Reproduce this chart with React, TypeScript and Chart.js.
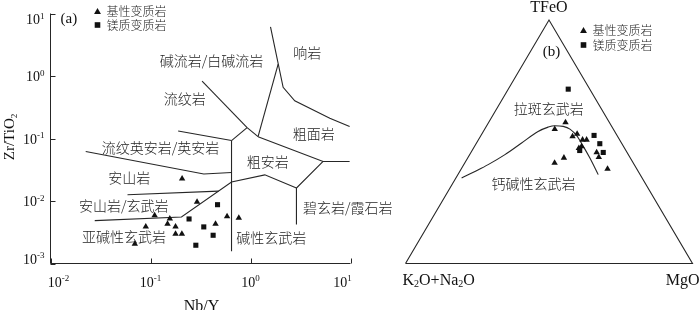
import React, { useEffect, useRef } from "react";
import { Chart, registerables } from "chart.js";

Chart.register(...registerables);

const SERIF = '"Liberation Serif", "Times New Roman", serif';
const CJK = '"Noto Sans CJK SC", "Noto Sans CJK JP", sans-serif';
const INK = "#111";
const CJK_INK = "#1e1e1e";
const LINE = "#262626";

// ---------------- Panel (a): Nb/Y vs Zr/TiO2 ----------------
const basicNbY = [0.207, 0.292, 0.11, 0.156, 0.148, 0.0897, 0.178, 0.178, 0.206, 0.583, 0.447, 0.764, 0.0697];
const basicZrTi = [0.0227, 0.00964, 0.00589, 0.00522, 0.0043, 0.00389, 0.00389, 0.00298, 0.00298, 0.00567, 0.0043, 0.00536, 0.00206];
const maficNbY = [0.468, 0.243, 0.341, 0.423, 0.284];
const maficZrTi = [0.00873, 0.00516, 0.00385, 0.00283, 0.00196];

// field boundaries [Nb/Y, Zr/TiO2]
const bComenditeRhyolite = [[0.328, 0.83], [0.925, 0.149]];
const bRhyoliteDacite = [[0.925, 0.149], [0.646, 0.0927]];
const bRhyoliteTrachyte = [[0.925, 0.149], [1.19, 0.107]];
const bComenditeTrachyte = [[1.19, 0.107], [1.89, 1.55]];
const bPhonolite = [[1.585, 6.09], [2.12, 0.658], [2.77, 0.402], [6.21, 0.211], [9.8, 0.155]];
const bTrachyteTrachyandesite = [[1.19, 0.107], [5.32, 0.0429], [9.8, 0.0429]];
const bBasanite = [[5.32, 0.0429], [2.88, 0.0161], [2.88, 0.00419]];
const bAlkBasalt = [[2.88, 0.0161], [1.39, 0.0262], [0.646, 0.0201], [0.204, 0.00556], [0.0277, 0.00485]];
const bAndesiteBasalt = [[0.0589, 0.0126], [0.48, 0.0144]];
const bAndesite = [[0.0225, 0.0618], [0.341, 0.027], [0.646, 0.0286]];
const bDacite = [[0.189, 0.132], [0.646, 0.0927]];
const bVertical = [[0.646, 0.0927], [0.646, 0.00157]];
const boundariesA = [
  bComenditeRhyolite, bRhyoliteDacite, bRhyoliteTrachyte, bComenditeTrachyte, bPhonolite,
  bTrachyteTrachyandesite, bBasanite, bAlkBasalt, bAndesiteBasalt, bAndesite, bDacite, bVertical,
];

const xTickValues = [0.01, 0.1, 1, 10];
const xTickExponents = ["-2", "-1", "0", "1"];
const yTickValues = [0.001, 0.01, 0.1, 1, 10];
const yTickExponents = ["-3", "-2", "-1", "0", "1"];

const fieldNamesA = ["碱流岩/白碱流岩", "响岩", "流纹岩", "粗面岩", "流纹英安岩/英安岩", "粗安岩", "安山岩", "安山岩/玄武岩", "碧玄岩/霞石岩", "亚碱性玄武岩", "碱性玄武岩"];
const fieldNbY = [0.407, 3.7, 0.22, 4.28, 0.126, 1.49, 0.0614, 0.0541, 9.4, 0.0543, 1.61];
const fieldZrTi = [1.73, 2.32, 0.428, 0.118, 0.0721, 0.0429, 0.0233, 0.00841, 0.00773, 0.00265, 0.0026];

const seriesNames = ["基性变质岩", "镁质变质岩"];

// ---------------- Panel (b): AFM ternary ----------------
const basicFeO = [57.9, 55.2, 52.2, 53.2, 50.8, 50.8, 48.1, 45.6, 43.7, 38.8, 43.4, 41.3, 47.4];
const basicMgO = [26.8, 24.4, 32.1, 33.2, 36.3, 37.7, 37.3, 43.8, 45.5, 51.0, 33.5, 31.3, 36.7];
const basicAlk = [15.3, 20.4, 15.7, 13.6, 12.9, 11.5, 14.6, 10.6, 10.8, 10.2, 23.1, 27.4, 15.9];
const maficFeO = [71.6, 52.6, 49.2, 45.6, 46.4];
const maficMgO = [20.9, 39.4, 43.1, 46.1, 37.5];
const maficAlk = [7.5, 8.0, 7.7, 8.3, 16.1];

const curveFeO = [35.1, 37.8, 40.6, 44.7, 49.5, 54.2, 56.0, 56.6, 56.3, 55.2, 52.5, 48.1, 43.3, 36.5];
const curveMgO = [2.0, 5.3, 8.5, 12.3, 15.7, 19.1, 21.7, 23.7, 26.8, 29.7, 33.4, 37.9, 42.6, 48.9];
const curveAlk = [62.9, 56.9, 50.9, 43.0, 34.8, 26.7, 22.3, 19.7, 16.9, 15.1, 14.1, 14.0, 14.1, 14.6];

const frameFeO = [0, 100, 0, 0];
const frameMgO = [0, 0, 100, 0];
const frameAlk = [100, 0, 0, 100];

const fieldNamesB = ["拉斑玄武岩", "钙碱性玄武岩"];
const fieldFeOB = [63.5, 32.8];
const fieldMgOB = [18.2, 28.2];
const fieldAlkB = [18.3, 39.0];

function ternary(f: number, m: number, a: number) {
  const s = f + m + a;
  return { x: ((m + f / 2) / s) * 100, y: (f / s) * 100 };
}
function ternaryList(f: number[], m: number[], a: number[]) {
  return f.map((v, i) => ternary(v, m[i], a[i]));
}

// ---------------- drawing helpers ----------------
type Seg = [string, number]; // 0 normal, 1 sup, -1 sub
function richWidth(ctx: CanvasRenderingContext2D, segs: Seg[], size: number) {
  let w = 0;
  for (const [t, k] of segs) {
    ctx.font = `${k ? Math.round(size * 0.62) : size}px ${SERIF}`;
    w += ctx.measureText(t).width;
  }
  return w;
}
function drawRich(ctx: CanvasRenderingContext2D, segs: Seg[], x: number, y: number, size: number, align: string) {
  const total = richWidth(ctx, segs, size);
  let cx = align === "left" ? x : align === "center" ? x - total / 2 : x - total;
  ctx.textAlign = "left";
  ctx.textBaseline = "alphabetic";
  for (const [t, k] of segs) {
    ctx.font = `${k ? Math.round(size * 0.62) : size}px ${SERIF}`;
    const dy = k === 1 ? -size * 0.38 : k === -1 ? size * 0.18 : 0;
    ctx.fillText(t, cx, y + dy);
    cx += ctx.measureText(t).width;
  }
}
function tri(ctx: CanvasRenderingContext2D, cx: number, cy: number, r: number) {
  ctx.beginPath();
  ctx.moveTo(cx, cy - r);
  ctx.lineTo(cx + r * 0.866, cy + r / 2);
  ctx.lineTo(cx - r * 0.866, cy + r / 2);
  ctx.closePath();
  ctx.fill();
}
function legend(ctx: CanvasRenderingContext2D, mx: number, y1: number, y2: number) {
  ctx.fillStyle = INK;
  tri(ctx, mx, y1 + 1, 4);
  ctx.fillRect(mx - 2.8, y2 - 2.8, 5.6, 5.6);
  ctx.fillStyle = CJK_INK;
  ctx.font = `300 12px ${CJK}`;
  ctx.textAlign = "left";
  ctx.textBaseline = "middle";
  ctx.fillText(seriesNames[0], mx + 9, y1);
  ctx.fillText(seriesNames[1], mx + 9, y2);
}

const pointStyleBasic = { pointStyle: "triangle", pointRadius: 3.7, backgroundColor: INK, borderColor: INK, borderWidth: 0 };
const pointStyleMafic = { pointStyle: "rect", pointRadius: 3.6, backgroundColor: INK, borderColor: INK, borderWidth: 0 };

function configA(): any {
  const decorate = {
    id: "decorA",
    afterDraw(chart: any) {
      const { ctx, chartArea: ca } = chart;
      const x = chart.scales.x;
      const y = chart.scales.y;
      ctx.save();
      ctx.strokeStyle = LINE;
      ctx.lineWidth = 1;
      ctx.beginPath();
      ctx.moveTo(ca.left, ca.top);
      ctx.lineTo(ca.left, ca.bottom);
      ctx.lineTo(ca.right, ca.bottom);
      yTickValues.forEach((v) => {
        const py = Math.round(y.getPixelForValue(v)) + 0.5;
        ctx.moveTo(ca.left, py);
        ctx.lineTo(ca.left + 5, py);
      });
      xTickValues.forEach((v) => {
        const px = Math.round(x.getPixelForValue(v)) + 0.5;
        ctx.moveTo(px, ca.bottom);
        ctx.lineTo(px, ca.bottom - 5);
      });
      ctx.stroke();

      ctx.fillStyle = INK;
      xTickValues.forEach((v, i) => {
        const px = Math.min(Math.max(x.getPixelForValue(v), ca.left + 8), ca.right - 8);
        drawRich(ctx, [["10", 0], [xTickExponents[i], 1]], px, ca.bottom + 23, 14, "center");
      });
      yTickValues.forEach((v, i) => {
        const py = Math.min(Math.max(y.getPixelForValue(v), ca.top + 5.5), ca.bottom - 5);
        drawRich(ctx, [["10", 0], [yTickExponents[i], 1]], ca.left - 6, py + 5, 14, "right");
      });
      // axis titles
      drawRich(ctx, [["Nb/Y", 0]], (ca.left + ca.right) / 2 + 1, 311, 16, "center");
      ctx.save();
      ctx.translate(14, 137);
      ctx.rotate(-Math.PI / 2);
      drawRich(ctx, [["Zr/TiO", 0], ["2", -1]], 0, 0, 15, "center");
      ctx.restore();

      // field names
      ctx.fillStyle = CJK_INK;
      ctx.font = `300 14px ${CJK}`;
      ctx.textAlign = "center";
      ctx.textBaseline = "middle";
      fieldNamesA.forEach((t, i) => {
        ctx.fillText(t, x.getPixelForValue(fieldNbY[i]), y.getPixelForValue(fieldZrTi[i]));
      });
      // panel letter
      ctx.fillStyle = INK;
      ctx.font = `15px ${SERIF}`;
      ctx.textAlign = "left";
      ctx.textBaseline = "middle";
      ctx.fillText("(a)", ca.left + 10, ca.top + 6);
      legend(ctx, 97.5, 11, 25);
      ctx.restore();
    },
  };
  return {
    type: "scatter",
    data: {
      datasets: [
        { data: basicNbY.map((v, i) => ({ x: v, y: basicZrTi[i] })), ...pointStyleBasic, clip: false },
        { data: maficNbY.map((v, i) => ({ x: v, y: maficZrTi[i] })), ...pointStyleMafic, clip: false },
        ...boundariesA.map((b) => ({
          data: b.map(([px, py]) => ({ x: px, y: py })),
          showLine: true,
          pointRadius: 0,
          borderColor: LINE,
          borderWidth: 1.1,
          fill: false,
          tension: 0,
          clip: false,
        })),
      ],
    },
    options: {
      animation: false,
      responsive: false,
      events: [],
      layout: { padding: { left: 50.5, right: 349.5, top: 13.5, bottom: 46.5 } },
      scales: {
        x: { type: "logarithmic", min: 0.01, max: 10, display: false },
        y: { type: "logarithmic", min: 0.001, max: 10, display: false },
      },
      plugins: { legend: { display: false }, tooltip: { enabled: false } },
    },
    plugins: [decorate],
  };
}

function configB(): any {
  const decorate = {
    id: "decorB",
    afterDraw(chart: any) {
      const { ctx } = chart;
      const x = chart.scales.x;
      const y = chart.scales.y;
      ctx.save();
      ctx.fillStyle = INK;
      const apexX = x.getPixelForValue(50);
      const apexY = y.getPixelForValue(100);
      const leftX = x.getPixelForValue(0);
      const rightX = x.getPixelForValue(100);
      const baseY = y.getPixelForValue(0);
      drawRich(ctx, [["TFeO", 0]], apexX, apexY - 8, 16, "center");
      drawRich(ctx, [["K", 0], ["2", -1], ["O+Na", 0], ["2", -1], ["O", 0]], leftX - 3, baseY + 21, 16, "left");
      drawRich(ctx, [["MgO", 0]], rightX + 7, baseY + 21, 16, "right");
      ctx.font = `15px ${SERIF}`;
      ctx.textAlign = "center";
      ctx.textBaseline = "middle";
      ctx.fillText("(b)", apexX + 2.5, apexY + 32);
      ctx.fillStyle = CJK_INK;
      ctx.font = `300 14px ${CJK}`;
      fieldNamesB.forEach((t, i) => {
        const p = ternary(fieldFeOB[i], fieldMgOB[i], fieldAlkB[i]);
        ctx.fillText(t, x.getPixelForValue(p.x), y.getPixelForValue(p.y));
      });
      legend(ctx, 583.5, 30, 45);
      ctx.restore();
    },
  };
  return {
    type: "scatter",
    data: {
      datasets: [
        { data: ternaryList(basicFeO, basicMgO, basicAlk), ...pointStyleBasic, clip: false },
        { data: ternaryList(maficFeO, maficMgO, maficAlk), ...pointStyleMafic, clip: false },
        {
          data: ternaryList(curveFeO, curveMgO, curveAlk),
          showLine: true,
          pointRadius: 0,
          borderColor: LINE,
          borderWidth: 1.1,
          cubicInterpolationMode: "monotone",
          clip: false,
        },
        {
          data: ternaryList(frameFeO, frameMgO, frameAlk),
          showLine: true,
          pointRadius: 0,
          borderColor: LINE,
          borderWidth: 1.1,
          tension: 0,
          clip: false,
        },
      ],
    },
    options: {
      animation: false,
      responsive: false,
      events: [],
      layout: { padding: { left: 405.5, right: 7.5, top: 20, bottom: 46.5 } },
      scales: {
        x: { type: "linear", min: 0, max: 100, display: false },
        y: { type: "linear", min: 0, max: 100, display: false },
      },
      plugins: { legend: { display: false }, tooltip: { enabled: false } },
    },
    plugins: [decorate],
  };
}

export default function App() {
  const refA = useRef<HTMLCanvasElement>(null);
  const refB = useRef<HTMLCanvasElement>(null);
  useEffect(() => {
    const a = new Chart(refA.current as HTMLCanvasElement, configA());
    const b = new Chart(refB.current as HTMLCanvasElement, configB());
    return () => {
      a.destroy();
      b.destroy();
    };
  }, []);
  return (
    <div style={{ position: "absolute", left: 0, top: 0, width: 700, height: 310, background: "#fff", overflow: "hidden" }}>
      <canvas ref={refA} width={700} height={310} style={{ position: "absolute", left: 0, top: 0 }} />
      <canvas ref={refB} width={700} height={310} style={{ position: "absolute", left: 0, top: 0 }} />
    </div>
  );
}
